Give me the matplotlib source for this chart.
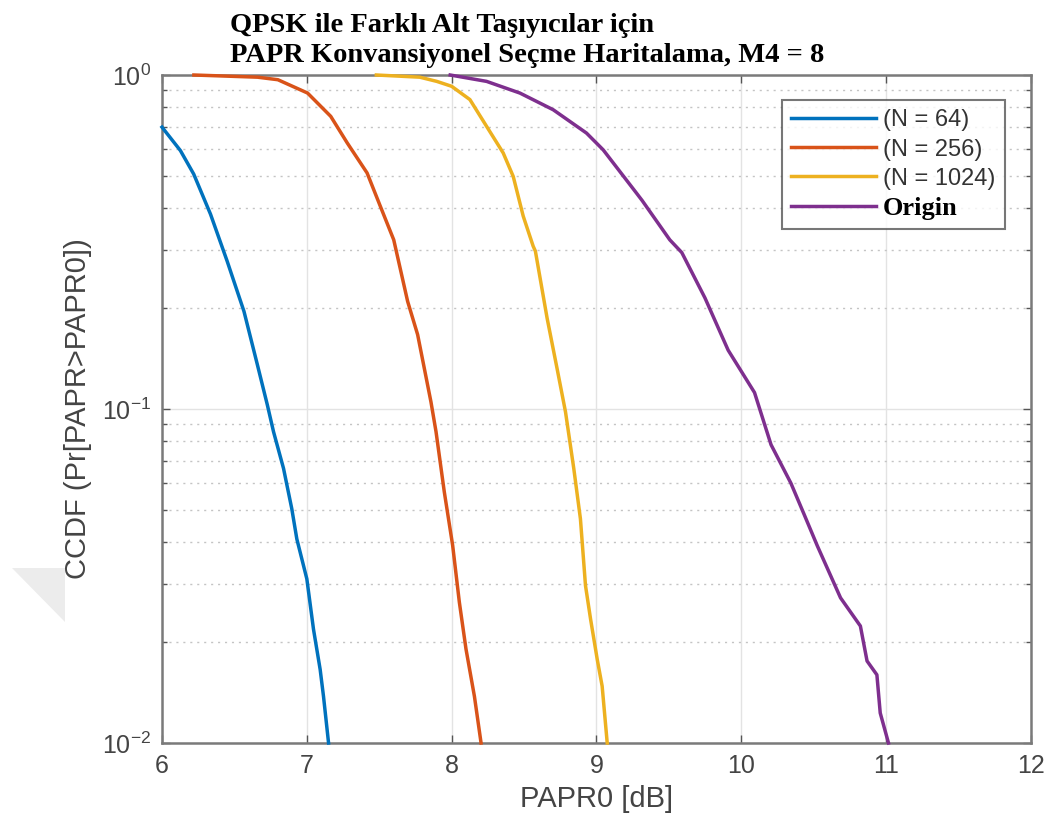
import matplotlib
matplotlib.use("Agg")
import matplotlib.pyplot as plt
from matplotlib.ticker import LogLocator, FixedLocator, NullFormatter
from matplotlib.patches import Polygon

# ---- data ----
x_n64 = [6.0, 6.127, 6.219, 6.335, 6.45, 6.566, 6.658, 6.727, 6.77, 6.839,
         6.896, 6.931, 7.0, 7.046, 7.092, 7.115, 7.15]
y_n64 = [0.698, 0.594, 0.505, 0.383, 0.277, 0.196, 0.136, 0.103, 0.0855, 0.0664,
         0.0503, 0.0408, 0.031, 0.0219, 0.0166, 0.0138, 0.01]

x_n256 = [6.22, 6.66, 6.80, 7.005, 7.165, 7.279, 7.416, 7.508, 7.6, 7.696,
          7.765, 7.857, 7.892, 7.949, 8.007, 8.053, 8.099, 8.157, 8.203]
y_n256 = [1.0, 0.985, 0.968, 0.883, 0.752, 0.626, 0.509, 0.404, 0.321, 0.21,
          0.167, 0.105, 0.0855, 0.0565, 0.039, 0.0264, 0.0191, 0.0138, 0.01]

x_n1024 = [7.48, 7.78, 7.897, 8.0, 8.126, 8.241, 8.356, 8.425, 8.494, 8.563,
           8.578, 8.659, 8.728, 8.786, 8.843, 8.889, 8.924, 8.959, 9.005, 9.039, 9.074]
y_n1024 = [1.0, 0.985, 0.957, 0.925, 0.844, 0.702, 0.584, 0.497, 0.378, 0.307,
           0.297, 0.187, 0.132, 0.098, 0.0664, 0.0469, 0.0296, 0.0235, 0.0178, 0.0148, 0.01]

x_origin = [7.99, 8.241, 8.471, 8.701, 8.931, 9.046, 9.276, 9.315, 9.506, 9.589,
            9.749, 9.909, 10.091, 10.205, 10.342, 10.434, 10.525, 10.685, 10.822,
            10.868, 10.936, 10.959, 11.016]
y_origin = [1.0, 0.957, 0.883, 0.787, 0.67, 0.597, 0.443, 0.421, 0.321, 0.294,
            0.215, 0.150, 0.112, 0.0782, 0.060, 0.0483, 0.0389, 0.0272, 0.0224,
            0.0176, 0.016, 0.0123, 0.01]

series_labels = ["(N = 64)", "(N = 256)", "(N = 1024)", "Origin"]
series_colors = ["#0072BD", "#D95319", "#EDB120", "#7E2F8E"]
x_ticks = [6, 7, 8, 9, 10, 11, 12]
title_lines = ["QPSK ile Farklı Alt Taşıyıcılar için",
               "PAPR Konvansiyonel Seçme Haritalama, M4 = 8"]
x_label = "PAPR0 [dB]"
y_label = "CCDF (Pr[PAPR>PAPR0])"

# ---- figure ----
plt.rcParams['font.family'] = ['Liberation Sans', 'DejaVu Sans']
plt.rcParams['mathtext.fontset'] = 'custom'
plt.rcParams['mathtext.rm'] = 'Liberation Sans'
plt.rcParams['mathtext.it'] = 'Liberation Sans'
plt.rcParams['mathtext.bf'] = 'Liberation Sans'

W, H = 1051, 826
fig = plt.figure(figsize=(W / 100, H / 100), dpi=100)
fig.patch.set_facecolor('white')

# faint gray triangle artifact at the left edge (drawn behind everything)
tri = Polygon([(12 / W, 1 - 568 / H), (65 / W, 1 - 568 / H), (65 / W, 1 - 622 / H)],
              closed=True, transform=fig.transFigure, facecolor='#ececec',
              edgecolor='none', zorder=-10)
fig.patches.append(tri)

ax = fig.add_axes([162 / W, 1 - 743 / H, (1031 - 162) / W, (743 - 75) / H])

xs = [x_n64, x_n256, x_n1024, x_origin]
ys = [y_n64, y_n256, y_n1024, y_origin]
for x, y, lab, c in zip(xs, ys, series_labels, series_colors):
    ax.plot(x, y, color=c, lw=2.5, label=lab, clip_on=False, zorder=3,
            solid_joinstyle='round')

ax.set_yscale('log')
ax.set_xlim(6, 12)
ax.set_ylim(0.01, 1)
ax.xaxis.set_major_locator(FixedLocator(x_ticks))
ax.yaxis.set_major_locator(LogLocator(base=10, numticks=10))
ax.yaxis.set_minor_locator(LogLocator(base=10, subs=range(2, 10), numticks=10))
ax.yaxis.set_minor_formatter(NullFormatter())

axis_gray = '#7a7a7a'
for s in ax.spines.values():
    s.set_color(axis_gray)
    s.set_linewidth(1.8)

ax.tick_params(which='both', direction='in', top=True, right=True,
               color='#555555', labelcolor='#444444')
ax.tick_params(which='major', length=6, width=1.0, labelsize=18, pad=8)
ax.tick_params(which='minor', length=3.5, width=1.0)

ax.grid(True, which='major', axis='both', color='#e3e3e3', lw=1.0, ls='-')
ax.grid(True, which='minor', axis='y', color='#c4c4c4', lw=1.0, ls=(0, (1.5, 3.5)))
ax.set_axisbelow(True)

ax.set_xlabel(x_label, fontsize=21, color='#444444', labelpad=5)
ax.set_ylabel(y_label, fontsize=21, color='#444444', labelpad=7)

# title: two left-aligned bold serif lines
for i, line in enumerate(title_lines):
    fig.text(230 / W, 1 - (32 + 30 * i) / H, line, fontsize=20.5, fontweight='bold',
             family=['Liberation Serif', 'DejaVu Serif'], ha='left', va='baseline',
             color='black')

leg = ax.legend(loc='upper right', bbox_to_anchor=(1 - 26 / 869, 1 - 25 / 668),
                borderaxespad=0, fontsize=17, frameon=True, fancybox=False,
                handlelength=3.6, handletextpad=0.3, labelspacing=0.3,
                borderpad=0.4)
leg.get_frame().set_edgecolor('#555555')
leg.get_frame().set_linewidth(1.5)
for t in leg.get_texts():
    t.set_color('#333333')
ot = leg.get_texts()[3]
ot.set_family(['Liberation Serif', 'DejaVu Serif'])
ot.set_fontweight('bold')
ot.set_fontsize(19)
ot.set_color('black')

fig.savefig('out.png', dpi=100)
